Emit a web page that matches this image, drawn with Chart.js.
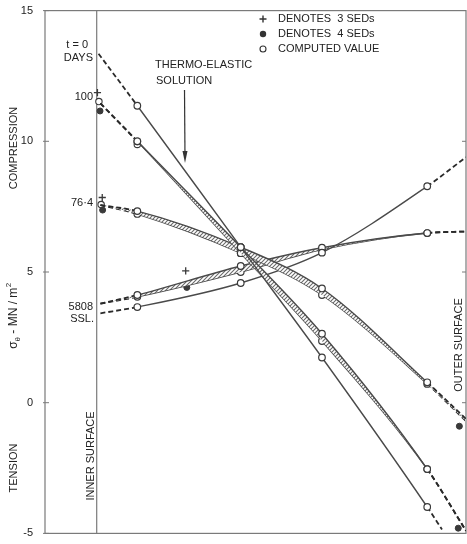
<!DOCTYPE html>
<html>
<head>
<meta charset="utf-8">
<script src="https://cdn.jsdelivr.net/npm/chart.js@4"></script>
<style>
  html, body { margin: 0; padding: 0; background: #fff; }
  #wrap { width: 467px; height: 544px; }
</style>
</head>
<body>
<div id="wrap"><canvas id="chart" width="467" height="544"></canvas></div>
<script>
// radial position: 0 = inner surface, 10 = outer surface
const xCurves = [0.1, 1.1, 3.9, 6.1, 8.95, 10];
const xT0 = [0.05, 1.1, 3.9, 6.1, 8.95, 9.35];

// hoop stress, MN/m^2 (compression positive)
const t0Days = [13.35, 11.36, 5.95, 1.73, -3.99, -4.85];
const d100Upper = [11.45, 10.0, 5.95, 2.64, -2.54, -4.9];
const d100Lower = [11.45, 10.0, 5.72, 2.36, -2.54, -4.9];
const d76Upper = [7.56, 7.33, 5.95, 4.37, 0.78, -0.62];
const d76Lower = [7.56, 7.22, 5.72, 4.12, 0.72, -0.7];
const ssl5808 = [3.42, 3.66, 4.58, 5.74, 8.28, 9.39];
const ssl5808Upper = [3.79, 4.12, 5.23, 5.93, 6.49, 6.55];
const ssl5808Lower = [3.79, 4.05, 5.0, 5.86, 6.49, 6.55];

// SED readings
const sed3X = [0.02, 0.15, 2.41];
const sed3Y = [11.86, 7.85, 5.04];
const sed4X = [0.09, 0.16, 2.44, 9.82, 9.79];
const sed4Y = [11.16, 7.37, 4.41, -0.9, -4.8];
// computed values that sit off the drawn curves
const compX = [0.06, 0.12, 1.1];
const compY = [11.52, 7.58, 9.88];

const yTicks = [-5, 0, 5, 10, 15];

const ink = "#3a3a3a";
const frameCol = "#7a7a7a";
const font = "Liberation Sans, Arial, sans-serif";

function pts(xs, ys) {
  return xs.map((x, i) => ({ x: x, y: ys[i] }));
}

function hatch() {
  const c = document.createElement("canvas");
  c.width = 4; c.height = 4;
  const g = c.getContext("2d");
  g.fillStyle = "#fff";
  g.fillRect(0, 0, 4, 4);
  g.strokeStyle = "#6a6a6a";
  g.lineWidth = 1.1;
  g.beginPath();
  g.moveTo(-1, 5); g.lineTo(5, -1);
  g.moveTo(-1, 1); g.lineTo(1, -1);
  g.moveTo(3, 5); g.lineTo(5, 3);
  g.stroke();
  return g.createPattern(c, "repeat");
}
const pattern = hatch();

function curve(label, xs, ys, extra) {
  const n = xs.length;
  const isEnd = ctx => ctx.p0DataIndex === 0 || ctx.p1DataIndex === n - 1;
  return Object.assign({
    label: label,
    data: pts(xs, ys),
    borderColor: "#4a4a4a",
    borderWidth: 1.4,
    fill: false,
    cubicInterpolationMode: "monotone",
    pointRadius: ctx => (ctx.dataIndex === 0 || ctx.dataIndex === n - 1) ? 0 : 3.3,
    pointBackgroundColor: "#fff",
    pointBorderColor: ink,
    pointBorderWidth: 1.2,
    segment: {
      borderDash: ctx => isEnd(ctx) ? [5, 3] : undefined,
      borderWidth: ctx => isEnd(ctx) ? 1.8 : undefined,
      borderColor: ctx => isEnd(ctx) ? "#2a2a2a" : undefined
    }
  }, extra || {});
}

function marks(label, xs, ys, style) {
  return Object.assign({
    label: label,
    data: pts(xs, ys),
    showLine: false,
    pointBorderColor: ink
  }, style);
}

const datasets = [
  curve("t = 0 days", xT0, t0Days),
  curve("100 days", xCurves, d100Upper, { fill: "+1", backgroundColor: pattern }),
  curve("100 days b", xCurves, d100Lower),
  curve("76.4 days", xCurves, d76Upper, { fill: "+1", backgroundColor: pattern }),
  curve("76.4 days b", xCurves, d76Lower),
  curve("5808 SSL", xCurves, ssl5808),
  curve("5808 SSL hatched", xCurves, ssl5808Upper, { fill: "+1", backgroundColor: pattern }),
  curve("5808 SSL hatched b", xCurves, ssl5808Lower),
  marks("3 SEDs", sed3X, sed3Y, { pointStyle: "cross", pointRadius: 3.6, pointBorderWidth: 1.3 }),
  marks("4 SEDs", sed4X, sed4Y, { pointStyle: "circle", pointRadius: 3, pointBackgroundColor: ink, pointBorderWidth: 1 }),
  marks("computed", compX, compY, { pointStyle: "circle", pointRadius: 3.2, pointBackgroundColor: "#fff", pointBorderWidth: 1.1 })
];

function vtext(ctx, str, x, y) {
  ctx.save();
  ctx.translate(x, y);
  ctx.rotate(-Math.PI / 2);
  ctx.textAlign = "center";
  ctx.textBaseline = "middle";
  ctx.fillText(str, 0, 0);
  ctx.restore();
}

const notes = {
  id: "notes",
  beforeDraw(chart) {
    const ctx = chart.ctx;
    ctx.save();
    ctx.fillStyle = "#fff";
    ctx.fillRect(0, 0, chart.width, chart.height);
    ctx.restore();
  },
  beforeDatasetsDraw(chart) {
    const ctx = chart.ctx;
    const a = chart.chartArea;
    const xs = chart.scales.x, ys = chart.scales.y;
    ctx.save();
    ctx.strokeStyle = frameCol;
    ctx.lineWidth = 1.2;
    ctx.strokeRect(a.left, a.top, a.right - a.left, a.bottom - a.top);
    // inner surface
    const xi = xs.getPixelForValue(0);
    ctx.beginPath();
    ctx.moveTo(xi, a.top);
    ctx.lineTo(xi, a.bottom);
    ctx.stroke();
    // tick marks
    ctx.lineWidth = 1;
    yTicks.forEach(v => {
      const y = ys.getPixelForValue(v);
      ctx.beginPath();
      ctx.moveTo(a.left - 2, y);
      ctx.lineTo(a.left + 4, y);
      if (v > -5 && v < 15) {
        ctx.moveTo(a.right - 4, y);
        ctx.lineTo(a.right, y);
      }
      ctx.stroke();
    });
    ctx.restore();
  },
  afterDraw(chart) {
    const ctx = chart.ctx;
    ctx.save();
    ctx.fillStyle = "#222";
    ctx.strokeStyle = "#333";
    ctx.font = "11px " + font;
    ctx.textBaseline = "middle";

    // curve labels
    ctx.textAlign = "right";
    ctx.fillText("t = 0", 88, 45);
    ctx.fillText("DAYS", 93, 58);
    ctx.fillText("100", 93, 97);
    ctx.fillText("76\u00b74", 93, 203);
    ctx.fillText("5808", 93, 307);
    ctx.fillText("SSL.", 94, 319);

    ctx.textAlign = "left";
    ctx.fillText("THERMO-ELASTIC", 155, 65);
    ctx.fillText("SOLUTION", 156, 81);

    // arrow
    ctx.lineWidth = 1.2;
    ctx.beginPath();
    ctx.moveTo(184.5, 90);
    ctx.lineTo(185, 158);
    ctx.stroke();
    ctx.beginPath();
    ctx.moveTo(185, 163);
    ctx.lineTo(182.5, 151);
    ctx.lineTo(187.5, 151);
    ctx.closePath();
    ctx.fillStyle = "#333";
    ctx.fill();

    // key
    ctx.fillStyle = "#222";
    ctx.fillText("DENOTES  3 SEDs", 278, 19);
    ctx.fillText("DENOTES  4 SEDs", 278, 34);
    ctx.fillText("COMPUTED VALUE", 278, 49);
    ctx.lineWidth = 1.4;
    ctx.beginPath();
    ctx.moveTo(259.5, 19); ctx.lineTo(266.5, 19);
    ctx.moveTo(263, 15.5); ctx.lineTo(263, 22.5);
    ctx.stroke();
    ctx.beginPath();
    ctx.arc(263, 34, 3.2, 0, Math.PI * 2);
    ctx.fillStyle = "#333";
    ctx.fill();
    ctx.beginPath();
    ctx.lineWidth = 1.1;
    ctx.arc(263, 49, 3, 0, Math.PI * 2);
    ctx.stroke();

    // vertical labels
    ctx.fillStyle = "#222";
    vtext(ctx, "COMPRESSION", 14, 148);
    vtext(ctx, "TENSION", 14, 468);
    vtext(ctx, "INNER SURFACE", 91, 456);
    vtext(ctx, "OUTER SURFACE", 459, 345);

    // sigma_theta - MN/m^2
    ctx.save();
    ctx.translate(14, 316);
    ctx.rotate(-Math.PI / 2);
    ctx.textAlign = "left";
    const big = "12px " + font, small = "8px " + font;
    ctx.font = big;
    const w1 = ctx.measureText("\u03c3").width;
    const w3 = ctx.measureText(" - MN / m").width;
    ctx.font = small;
    const w2 = ctx.measureText("\u03b8").width;
    const w4 = ctx.measureText("2").width;
    let x = -(w1 + w2 + w3 + w4) / 2;
    ctx.font = big;
    ctx.fillText("\u03c3", x, 0); x += w1;
    ctx.font = small;
    ctx.fillText("\u03b8", x, 4); x += w2;
    ctx.font = big;
    ctx.fillText(" - MN / m", x, 0); x += w3;
    ctx.font = small;
    ctx.fillText("2", x + 0.5, -5);
    ctx.restore();

    ctx.restore();
  }
};

new Chart(document.getElementById("chart"), {
  type: "line",
  data: { datasets: datasets },
  options: {
    responsive: false,
    animation: false,
    layout: { autoPadding: false, padding: { left: 0, right: 1, top: 7, bottom: 8 } },
    plugins: {
      legend: { display: false },
      tooltip: { enabled: false }
    },
    scales: {
      x: { type: "linear", min: -1.4, max: 10, display: false },
      y: {
        min: -5,
        max: 15,
        afterBuildTicks: s => { s.ticks = yTicks.map(v => ({ value: v })); },
        afterFit: s => { s.width = 45; },
        ticks: { color: "#222", font: { family: font, size: 11 }, padding: 4 },
        grid: { display: false },
        border: { display: false }
      }
    }
  },
  plugins: [notes]
});
</script>
</body>
</html>
